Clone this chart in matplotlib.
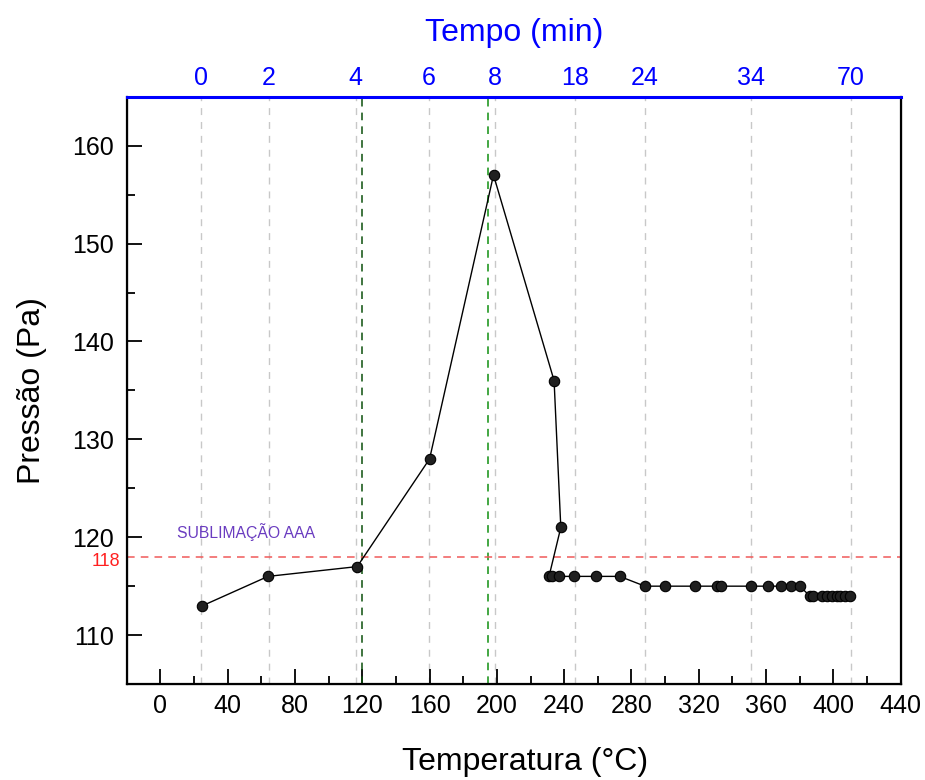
import matplotlib
matplotlib.use("Agg")
import matplotlib.pyplot as plt
from matplotlib.ticker import MultipleLocator
import matplotlib.transforms as mtransforms

plt.rcParams['font.family'] = ['Liberation Sans', 'DejaVu Sans']

# Data
temperatura = [25, 64, 117, 160, 198, 234, 238, 231, 232.5, 237, 246, 259, 273,
               288, 300, 318, 331, 333, 351, 361, 369, 375, 380,
               386, 388, 393, 396, 399, 402, 404, 407, 410]
pressao = [113, 116, 117, 128, 157, 136, 121, 116, 116, 116, 116, 116, 116,
           115, 115, 115, 115, 115, 115, 115, 115, 115, 115,
           114, 114, 114, 114, 114, 114, 114, 114, 114]

tempo_pos = [24.4, 64.5, 116, 159.6, 199, 246.6, 287.8, 351.2, 410.2]
tempo_labels = ['0', '2', '4', '6', '8', '18', '24', '34', '70']

x_ticks = [0, 40, 80, 120, 160, 200, 240, 280, 320, 360, 400, 440]
y_ticks = [110, 120, 130, 140, 150, 160]

limiar = 118
linha_a = 120
linha_b = 195

fig = plt.figure(figsize=(9.25, 7.8), dpi=100)
ax = fig.add_axes([0.137, 0.123, 0.8367, 0.753])

for xp in tempo_pos:
    ax.axvline(xp, color='#c8c8c8', lw=1, ls=(0, (5, 5)), zorder=1)
ax.axvline(linha_a, color='#0b4f0b', lw=1.1, ls=(0, (5, 4)), zorder=2)
ax.axvline(linha_b, color='#109010', lw=1.1, ls=(0, (5, 4)), zorder=2)
ax.axhline(limiar, color='#f05a5a', lw=1.1, ls=(0, (5, 4)), zorder=2)

ax.plot(temperatura, pressao, color='black', lw=1, marker='o', ms=7.5,
        mfc='#202020', mec='black', mew=0.8, zorder=3)

ax.set_xlim(-20, 440)
ax.set_ylim(105, 165)
ax.set_xticks(x_ticks)
ax.set_yticks(y_ticks)
ax.xaxis.set_minor_locator(MultipleLocator(20))
ax.yaxis.set_minor_locator(MultipleLocator(5))
ax.tick_params(which='major', direction='in', length=11, width=1.3, labelsize=18, pad=7,
               top=False, right=False)
ax.tick_params(axis='y', which='major', pad=9)
ax.tick_params(which='minor', direction='in', length=6, width=1.3, top=False, right=False)
for s in ['left', 'bottom', 'right']:
    ax.spines[s].set_linewidth(1.6)

ax.set_xlabel('Temperatura (°C)', fontsize=23)
ax.xaxis.set_label_coords(0.515, -0.108)
ax.set_ylabel('Pressão (Pa)', fontsize=23, labelpad=18)

trans = mtransforms.blended_transform_factory(ax.transAxes, ax.transData)
ax.text(-0.008, limiar - 0.45, '118', color='#ff2020', fontsize=13, ha='right', va='center',
        transform=trans)
ax.text(10, 120.5, 'SUBLIMAÇÃO AAA', color='#6a3cc0', fontsize=11.3, ha='left', va='center')

ax2 = ax.twiny()
ax2.set_xlim(ax.get_xlim())
ax2.set_xticks(tempo_pos)
ax2.set_xticklabels(tempo_labels)
ax2.tick_params(axis='x', length=0, labelsize=18, labelcolor='blue', pad=5)
ax2.spines['top'].set_color('blue')
ax2.spines['top'].set_linewidth(2.2)
ax2.set_xlabel('Tempo (min)', fontsize=23, color='blue', labelpad=18)

fig.savefig('out.png', dpi=100)
